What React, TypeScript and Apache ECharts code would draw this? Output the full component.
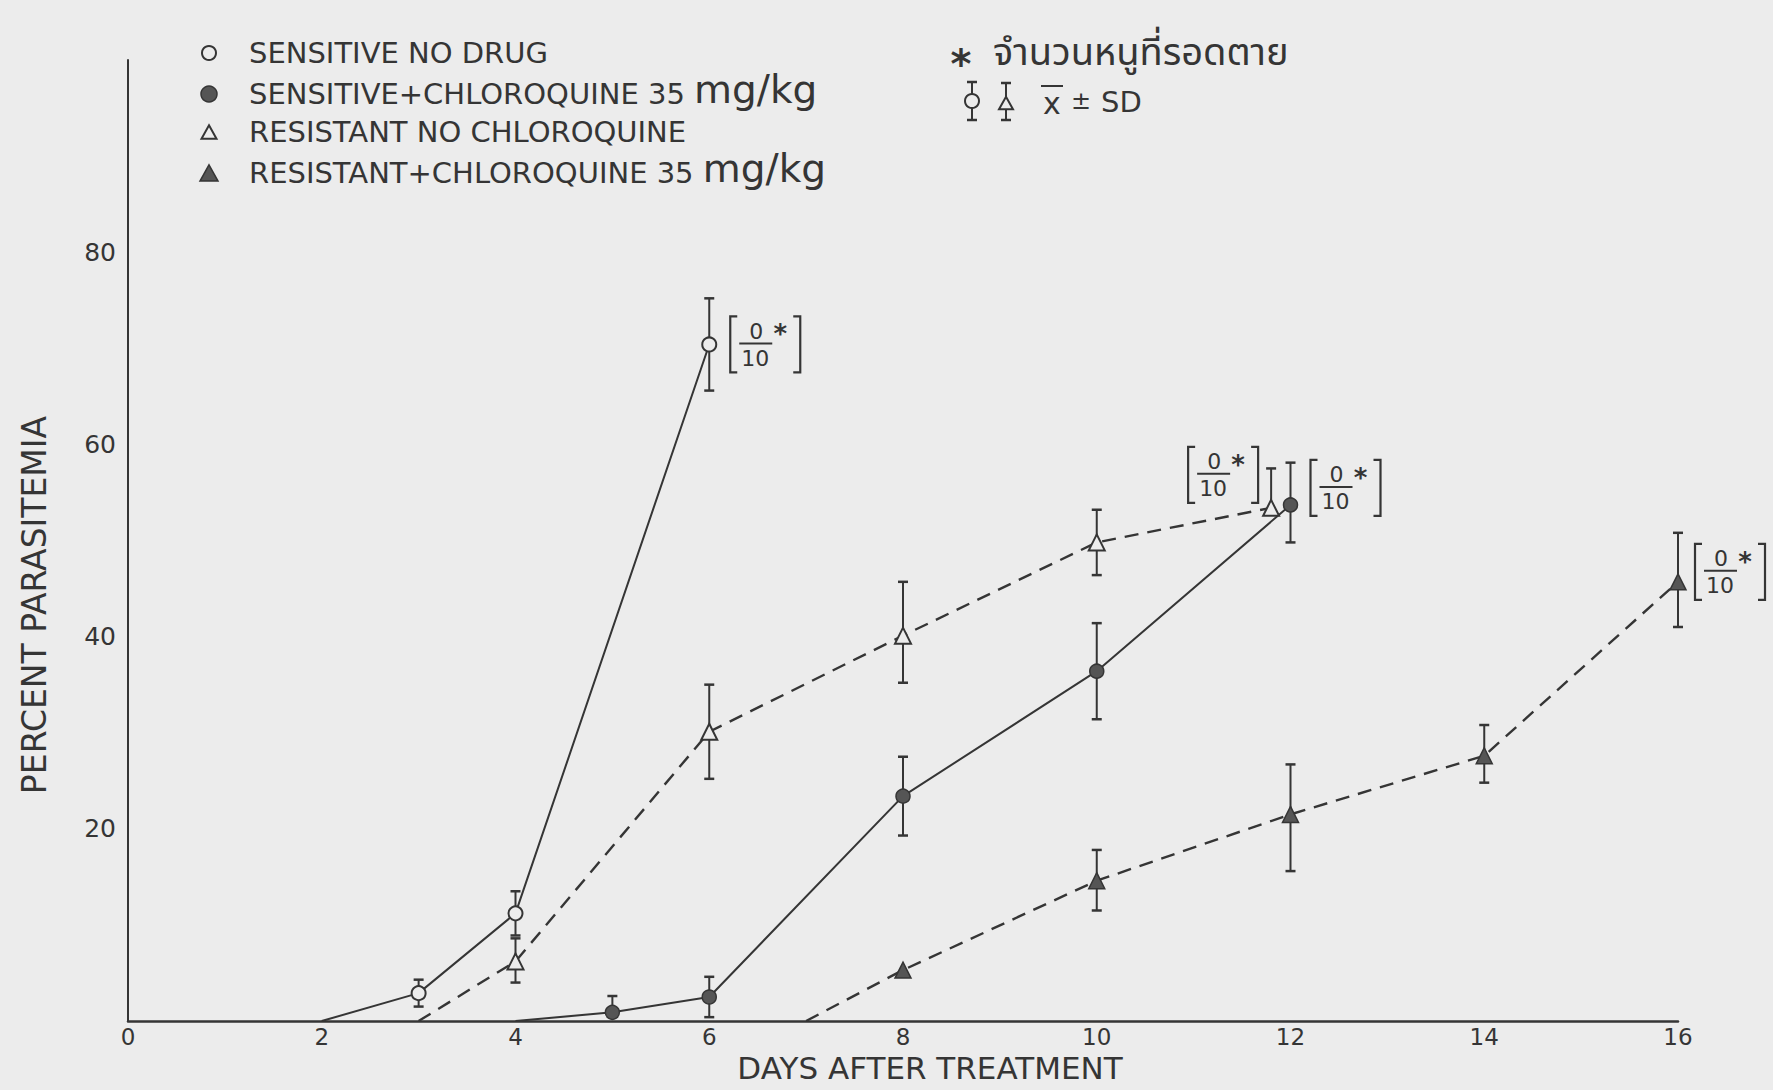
import React, { useEffect, useRef } from "react";
import * as echarts from "echarts";

// ---------- data ----------
const xTicks = [0, 2, 4, 6, 8, 10, 12, 14, 16];
const yTicks = [20, 40, 60, 80];

// Sensitive, no drug (open circle, solid)
const sensX = [2, 3, 4, 6];
const sensY = [0, 2.9, 11.2, 70.4];
const sensUp = [0, 1.4, 2.3, 4.8];
const sensDown = [0, 1.4, 2.3, 4.8];

// Sensitive + chloroquine 35 mg/kg (filled circle, solid)
const sensCqX = [4, 5, 6, 8, 10, 12];
const sensCqY = [0, 0.9, 2.5, 23.4, 36.4, 53.7];
const sensCqUp = [0, 1.7, 2.1, 4.1, 5.0, 4.4];
const sensCqDown = [0, 0, 2.1, 4.1, 5.0, 3.9];

// Resistant, no chloroquine (open triangle, dashed)
const resX = [3, 4, 6, 8, 10, 11.8];
const resY = [0, 6.2, 30.1, 40.1, 49.8, 53.4];
const resUp = [0, 2.4, 4.9, 5.6, 3.4, 4.1];
const resDown = [0, 2.2, 4.9, 4.9, 3.4, 0];

// Resistant + chloroquine 35 mg/kg (filled triangle, dashed)
const resCqX = [7, 8, 10, 12, 14, 16];
const resCqY = [0, 5.3, 14.6, 21.5, 27.6, 45.7];
const resCqUp = [0, 0, 3.2, 5.2, 3.2, 5.1];
const resCqDown = [0, 0, 3.1, 5.9, 2.8, 4.7];

// survivors annotations [0/10*]
const annoX = [6, 12, 11.8, 16];
const annoY = [70.4, 53.7, 53.4, 45.7];
const annoNum = ["0", "0", "0", "0"];
const annoDen = ["10", "10", "10", "10"];

const legendLabels = [
  "SENSITIVE NO DRUG",
  "SENSITIVE+CHLOROQUINE 35",
  "RESISTANT NO CHLOROQUINE",
  "RESISTANT+CHLOROQUINE 35",
];
const doseUnit = "mg/kg";
const thaiNote = "จำนวนหนูที่รอดตาย";
const xTitle = "DAYS AFTER TREATMENT";
const yTitle = "PERCENT PARASITEMIA";

// ---------- layout / style ----------
const BG = "#ececec";
const INK = "#353535";
const FILL = "#555555";
const FONT = "'DejaVu Sans', 'Liberation Sans', sans-serif";
const THAI_FONT = "'Noto Sans Thai', 'Noto Sans Thai Looped', Loma, Garuda, 'Tlwg Typo', Kinnari, 'DejaVu Sans', sans-serif";
// offsets of bracket box (left, top) relative to its point, in px
const annoOffsets = [
  [21, -28],
  [20, -45],
  [-83, -61],
  [17, -38],
];
const BOX_W = 70;
const BOX_H = 56;

function pts(xs: number[], ys: number[]) {
  return xs.map((x, i) =>
    ys[i] === 0 ? { value: [x, ys[i]], symbol: "none" } : { value: [x, ys[i]] }
  );
}

function errSeries(xs: number[], ys: number[], up: number[], down: number[]) {
  return {
    type: "custom",
    silent: true,
    z: 1,
    encode: { x: 0, y: 1 },
    data: xs.map((x, i) => [x, ys[i], ys[i] + up[i], Math.max(0, ys[i] - down[i]), up[i], down[i]]),
    renderItem: (params: any, api: any) => {
      const u = api.value(4);
      const d = api.value(5);
      if (u === 0 && d === 0) return null;
      const top = api.coord([api.value(0), api.value(2)]);
      const bot = api.coord([api.value(0), api.value(3)]);
      const st = { stroke: INK, lineWidth: 2 };
      const children: any[] = [
        { type: "line", shape: { x1: top[0], y1: top[1], x2: bot[0], y2: bot[1] }, style: st },
      ];
      if (u > 0)
        children.push({ type: "line", shape: { x1: top[0] - 5, y1: top[1], x2: top[0] + 5, y2: top[1] }, style: { stroke: INK, lineWidth: 2.5 } });
      if (d > 0)
        children.push({ type: "line", shape: { x1: bot[0] - 5, y1: bot[1], x2: bot[0] + 5, y2: bot[1] }, style: { stroke: INK, lineWidth: 2.5 } });
      return { type: "group", children };
    },
  };
}

function annoSeries() {
  return {
    type: "custom",
    silent: true,
    z: 5,
    encode: { x: 0, y: 1 },
    data: annoX.map((x, i) => [x, annoY[i]]),
    renderItem: (params: any, api: any) => {
      const i = params.dataIndex;
      const p = api.coord([api.value(0), api.value(1)]);
      const l = p[0] + annoOffsets[i][0];
      const t = p[1] + annoOffsets[i][1];
      const r = l + BOX_W;
      const b = t + BOX_H;
      const st = { stroke: INK, lineWidth: 2.2, fill: "none" };
      return {
        type: "group",
        children: [
          { type: "polyline", shape: { points: [[l + 7, t], [l, t], [l, b], [l + 7, b]] }, style: st },
          { type: "polyline", shape: { points: [[r - 7, t], [r, t], [r, b], [r - 7, b]] }, style: st },
          { type: "line", shape: { x1: l + 9, y1: t + 27, x2: l + 42, y2: t + 27 }, style: { stroke: INK, lineWidth: 2 } },
          { type: "text", style: { text: annoNum[i], x: l + 26, y: t + 15, align: "center", verticalAlign: "middle", font: `22px ${FONT}`, fill: INK } },
          { type: "text", style: { text: annoDen[i], x: l + 25, y: t + 42, align: "center", verticalAlign: "middle", font: `22px ${FONT}`, fill: INK } },
          { type: "text", style: { text: "*", x: l + 50, y: t + 18, align: "center", verticalAlign: "middle", font: `bold 26px ${FONT}`, fill: INK } },
        ],
      };
    },
  };
}

function triPts(cx: number, cy: number, s: number) {
  const h = s * 0.9;
  return [[cx, cy - h / 2], [cx + s / 2, cy + h / 2], [cx - s / 2, cy + h / 2]];
}

export default function App() {
  const ref = useRef<HTMLDivElement>(null);
  useEffect(() => {
    if (!ref.current) return;
    const chart = echarts.init(ref.current, undefined, { renderer: "svg" });
    const markerRows = [53, 94, 132, 173];
    const textRows = [53, 89, 132, 168];
    const mx = 209;
    const tx = 249;
    const graphic: any[] = [
      // legend markers
      { type: "circle", shape: { cx: mx, cy: markerRows[0], r: 7 }, style: { stroke: INK, lineWidth: 2, fill: BG } },
      { type: "circle", shape: { cx: mx, cy: markerRows[1], r: 8 }, style: { stroke: INK, lineWidth: 1.5, fill: FILL } },
      { type: "polygon", shape: { points: triPts(mx, markerRows[2], 15) }, style: { stroke: INK, lineWidth: 2, fill: BG } },
      { type: "polygon", shape: { points: triPts(mx, markerRows[3], 18) }, style: { stroke: INK, lineWidth: 1.5, fill: FILL } },
    ];
    legendLabels.forEach((lab, i) => {
      const withUnit = i === 1 || i === 3;
      graphic.push({
        type: "text",
        x: tx,
        y: textRows[i],
        style: {
          text: withUnit ? `{a|${lab} }{b|${doseUnit}}` : `{a|${lab}}`,
          verticalAlign: "middle",
          fill: INK,
          rich: {
            a: { fontSize: 29, fontFamily: FONT, fill: INK, verticalAlign: "bottom" },
            b: { fontSize: 39, fontFamily: FONT, fill: INK, verticalAlign: "bottom" },
          },
        },
      });
    });
    // Thai note
    graphic.push(
      { type: "text", style: { text: "*", x: 961, y: 64, align: "center", verticalAlign: "middle", font: `bold 40px ${FONT}`, fill: INK } },
      { type: "text", style: { text: thaiNote, x: 993, y: 53, align: "left", verticalAlign: "middle", font: `38px ${THAI_FONT}`, fill: INK } },
      // circle with error bar
      { type: "line", shape: { x1: 972, y1: 82, x2: 972, y2: 120 }, style: { stroke: INK, lineWidth: 2 } },
      { type: "line", shape: { x1: 967, y1: 82, x2: 977, y2: 82 }, style: { stroke: INK, lineWidth: 2.5 } },
      { type: "line", shape: { x1: 967, y1: 120, x2: 977, y2: 120 }, style: { stroke: INK, lineWidth: 2.5 } },
      { type: "circle", shape: { cx: 972, cy: 101, r: 7 }, style: { stroke: INK, lineWidth: 2, fill: BG } },
      // triangle with error bar
      { type: "line", shape: { x1: 1006, y1: 83, x2: 1006, y2: 120 }, style: { stroke: INK, lineWidth: 2 } },
      { type: "line", shape: { x1: 1001, y1: 83, x2: 1011, y2: 83 }, style: { stroke: INK, lineWidth: 2.5 } },
      { type: "line", shape: { x1: 1001, y1: 120, x2: 1011, y2: 120 }, style: { stroke: INK, lineWidth: 2.5 } },
      { type: "polygon", shape: { points: triPts(1006, 103, 14) }, style: { stroke: INK, lineWidth: 2, fill: BG } },
      // x-bar ± SD
      { type: "line", shape: { x1: 1041, y1: 86, x2: 1063, y2: 86 }, style: { stroke: INK, lineWidth: 2 } },
      { type: "text", style: { text: "x", x: 1052, y: 103, align: "center", verticalAlign: "middle", font: `30px ${FONT}`, fill: INK } },
      { type: "text", style: { text: "±", x: 1081, y: 101, align: "center", verticalAlign: "middle", font: `24px ${FONT}`, fill: INK } },
      { type: "text", style: { text: "SD", x: 1101, y: 102, align: "left", verticalAlign: "middle", font: `29px ${FONT}`, fill: INK } },
      // axis titles
      { type: "text", x: 34, y: 605, rotation: Math.PI / 2, style: { text: yTitle, align: "center", verticalAlign: "middle", font: `33px ${FONT}`, fill: INK } },
      { type: "text", style: { text: xTitle, x: 930, y: 1068, align: "center", verticalAlign: "middle", font: `31px ${FONT}`, fill: INK } }
    );

    const lineBase = { type: "line", z: 3, clip: false };
    chart.setOption({
      animation: false,
      backgroundColor: BG,
      grid: { left: 128, right: 95, top: 60, bottom: 69, containLabel: false },
      xAxis: {
        type: "value",
        min: 0,
        max: 16,
        interval: 2,
        axisLine: { show: true, onZero: false, lineStyle: { color: INK, width: 2.5 } },
        axisTick: { show: false },
        splitLine: { show: false },
        axisLabel: {
          margin: 4,
          fontSize: 23,
          fontFamily: FONT,
          color: INK,
          formatter: (v: number) => (xTicks.includes(v) ? String(v) : ""),
        },
      },
      yAxis: {
        type: "value",
        min: 0,
        max: 100,
        interval: 20,
        axisLine: { show: true, lineStyle: { color: INK, width: 2 } },
        axisTick: { show: false },
        splitLine: { show: false },
        axisLabel: {
          margin: 12,
          fontSize: 25,
          fontFamily: FONT,
          color: INK,
          formatter: (v: number) => (yTicks.includes(v) ? String(v) : ""),
        },
      },
      graphic,
      series: [
        errSeries(sensX, sensY, sensUp, sensDown),
        errSeries(sensCqX, sensCqY, sensCqUp, sensCqDown),
        errSeries(resX, resY, resUp, resDown),
        errSeries(resCqX, resCqY, resCqUp, resCqDown),
        {
          ...lineBase,
          name: legendLabels[0],
          data: pts(sensX, sensY),
          symbol: "circle",
          symbolSize: 14,
          lineStyle: { color: INK, width: 2 },
          itemStyle: { color: BG, borderColor: INK, borderWidth: 2 },
        },
        {
          ...lineBase,
          name: legendLabels[1],
          data: pts(sensCqX, sensCqY),
          symbol: "circle",
          symbolSize: 14,
          lineStyle: { color: INK, width: 2 },
          itemStyle: { color: FILL, borderColor: INK, borderWidth: 1.5 },
        },
        {
          ...lineBase,
          name: legendLabels[2],
          data: pts(resX, resY),
          symbol: "triangle",
          symbolSize: 16,
          lineStyle: { color: INK, width: 2.4, type: [14, 9] },
          itemStyle: { color: BG, borderColor: INK, borderWidth: 2 },
        },
        {
          ...lineBase,
          name: legendLabels[3],
          data: pts(resCqX, resCqY),
          symbol: "triangle",
          symbolSize: 16,
          lineStyle: { color: INK, width: 2.4, type: [14, 9] },
          itemStyle: { color: FILL, borderColor: INK, borderWidth: 1.5 },
        },
        annoSeries(),
      ],
    });
    return () => chart.dispose();
  }, []);
  return (
    <div
      ref={ref}
      style={{ position: "absolute", left: 0, top: 0, width: 1773, height: 1090, background: BG }}
    />
  );
}
